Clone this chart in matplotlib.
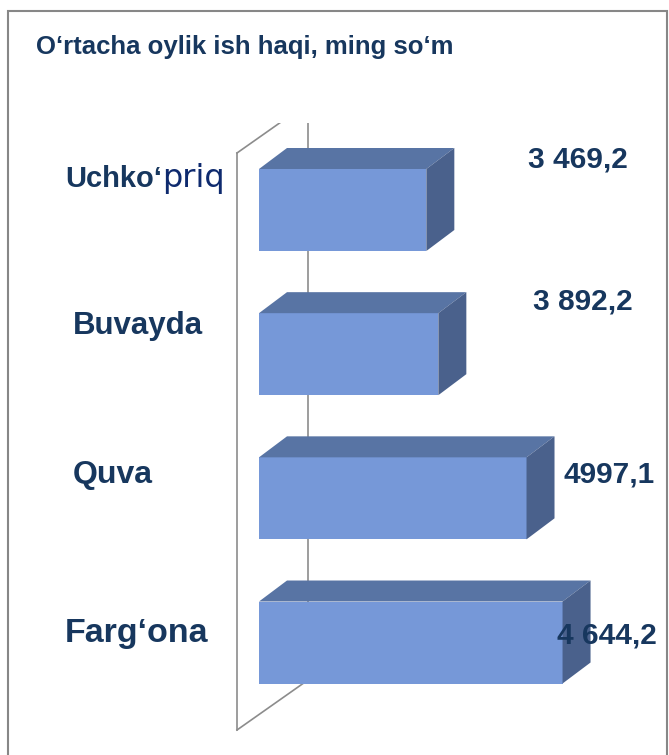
import matplotlib.pyplot as plt
from matplotlib.patches import Polygon, Rectangle

# data
categories = ["Uchko‘priq", "Buvayda", "Quva", "Farg‘ona"]
value_labels = ["3 469,2", "3 892,2", "4997,1", "4 644,2"]
# bar lengths as drawn in the picture (they do not follow the printed labels)
bar_values = [3469, 3718, 5546, 6293]
title = "O‘rtacha oylik ish haqi, ming so‘m"

W, H = 669, 755
NAVY = "#17375E"
FRONT, TOP, SIDE = "#7698D8", "#5874A4", "#4A618C"
GRAY = "#8C8C8C"
BOLD = ["Liberation Sans", "DejaVu Sans"]

fig = plt.figure(figsize=(W / 100, H / 100), dpi=100)


def fx(px):
    return px / W


def fy(py):
    return 1 - py / H


# axes box in pixels
ax_l, ax_t, ax_r, ax_b = 225, 123, 669, 740
ax = fig.add_axes([fx(ax_l), fy(ax_b), (ax_r - ax_l) / W, (ax_b - ax_t) / H])
xmax = 8500
zero_px = 259
sx = (ax_r - zero_px) / xmax          # pixels per value unit
row_px = 144.17                       # pixels per category row
first_px = 210
ax.set_xlim(-(zero_px - ax_l) / sx, xmax)
ax.set_ylim((ax_b - first_px) / row_px, (ax_t - first_px) / row_px)
ax.axis("off")


def d(px_x, px_y):
    # pixel offset -> data offset
    return px_x / sx, px_y / row_px


# side wall of the 3d box
wx = d(-22, 0)[0]
y_top = (153 - first_px) / row_px
y_bot = (730 - first_px) / row_px
ddx, ddy = d(71, -50)
ax.plot([wx, wx], [y_top, y_bot], color=GRAY, lw=1.2, zorder=3)
ax.plot([wx, wx + ddx], [y_top, y_top + ddy], color=GRAY, lw=1.2, zorder=3)
ax.plot([wx, wx + ddx], [y_bot, y_bot + ddy], color=GRAY, lw=1.2, zorder=1)
ax.plot([wx + ddx] * 2, [y_top + ddy, y_bot + ddy], color=GRAY, lw=1.2, zorder=1)

# 3d bars
h = 82 / row_px
bx, by = d(28, -21)
ypos = list(range(len(categories)))
ax.barh(ypos, bar_values, height=h, color=FRONT, zorder=2)
for y, v in zip(ypos, bar_values):
    t = y - h / 2
    b = y + h / 2
    ax.add_patch(Polygon([(0, t), (v, t), (v + bx, t + by), (bx, t + by)],
                         closed=True, facecolor=TOP, edgecolor="none", zorder=2))
    ax.add_patch(Polygon([(v, t), (v + bx, t + by), (v + bx, b + by), (v, b)],
                         closed=True, facecolor=SIDE, edgecolor="none", zorder=2))

# frame
fig.add_artist(Rectangle((fx(7.5), -0.05), (667 - 7.5) / W, 1.05 - 11.5 / H,
                         transform=fig.transFigure, fill=False,
                         edgecolor="#878787", lw=1.5))

# title
fig.text(fx(36), fy(54), title, fontsize=18.5, fontweight="bold", color=NAVY,
         family=BOLD, va="baseline", ha="left")

# category labels (placed by hand in the original)
cat_pos = [(65, 187), (73, 334), (73, 483), (65, 642)]
cat_size = [21, 22.5, 23, 24.5]
for i, (name, (px, py), fs) in enumerate(zip(categories, cat_pos, cat_size)):
    if i == 0:
        t1 = fig.text(fx(px), fy(py), name[:6], fontsize=fs, fontweight="bold",
                      color=NAVY, family=BOLD, va="baseline", ha="left")
        fig.canvas.draw()
        x1 = t1.get_window_extent().x1
        fig.text(x1 / W, fy(py), name[6:], fontsize=23, color="#0E2A6E",
                 family="DejaVu Sans", va="baseline", ha="left")
    else:
        fig.text(fx(px), fy(py), name, fontsize=fs, fontweight="bold",
                 color=NAVY, family=BOLD, va="baseline", ha="left")

# value labels
val_pos = [(528, 167), (533, 309), (563, 483), (557, 643)]
for s, (px, py) in zip(value_labels, val_pos):
    fig.text(fx(px), fy(py), s, fontsize=21.5, fontweight="bold", color=NAVY,
             family=BOLD, va="baseline", ha="left")

fig.savefig("out.png", dpi=100)
